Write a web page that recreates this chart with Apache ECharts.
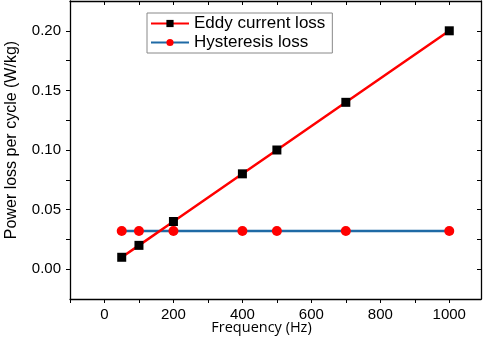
<!DOCTYPE html>
<html><head><meta charset="utf-8">
<script src="https://cdn.jsdelivr.net/npm/echarts@6/dist/echarts.min.js"></script>
<style>html,body{margin:0;padding:0;background:#fff}#c{width:484px;height:339px}</style>
</head><body><div id="c"></div>
<script>
const frequencies = [50, 100, 200, 400, 500, 700, 1000];
const eddyLoss = [0.01, 0.02, 0.04, 0.08, 0.10, 0.14, 0.20];
const hysteresisLoss = [0.032, 0.032, 0.032, 0.032, 0.032, 0.032, 0.032];
const seriesNames = ['Eddy current loss', 'Hysteresis loss'];
const xTitle = 'Frequency (Hz)';
const yTitle = 'Power loss per cycle (W/kg)';

const chart = echarts.init(document.getElementById('c'), null, {renderer: 'canvas'});
const font = 'Arial, "Liberation Sans", sans-serif';
const axisLine = {show: true, onZero: false, lineStyle: {color: '#000', width: 1.3}};
chart.setOption({
  animation: false,
  backgroundColor: '#fff',
  grid: {left: 70, right: 3, top: 1, bottom: 40, containLabel: false, outerBoundsMode: 'none'},
  legend: {
    left: 147, top: 13, orient: 'vertical',
    itemWidth: 38, itemHeight: 9, itemGap: 2,
    padding: [2, 7, 2, 3],
    borderColor: '#888', borderWidth: 1,
    textStyle: {fontFamily: font, fontSize: 17, lineHeight: 17, color: '#000'},
    data: seriesNames
  },
  xAxis: [{
    type: 'value', position: 'bottom', min: -100, max: 1092, interval: 100,
    axisLine, axisTick: {show: true, inside: false, length: 4, lineStyle: {color: '#000'}},
    splitLine: {show: false},
    axisLabel: {fontFamily: font, fontSize: 15, color: '#000', margin: 8,
      showMaxLabel: false,
      formatter: v => (v % 200 === 0 ? String(v) : '')},
    name: xTitle, nameLocation: 'middle', nameGap: 21, nameMoveOverlap: false,
    nameTextStyle: {fontFamily: '"Open Sans", sans-serif', fontSize: 14.5, color: '#000',
      padding: [0, 28, 0, 0]}
  }, {
    type: 'value', position: 'top', min: -100, max: 1092, interval: 100,
    axisLine, axisTick: {show: true, inside: true, length: 4, lineStyle: {color: '#000'}},
    axisLabel: {show: false}, splitLine: {show: false}
  }],
  yAxis: [{
    type: 'value', position: 'left', min: -0.025, max: 0.225, interval: 0.025,
    axisLine, axisTick: {show: true, inside: false, length: 4, lineStyle: {color: '#000'}},
    splitLine: {show: false},
    axisLabel: {fontFamily: font, fontSize: 15, color: '#000', margin: 9,
      showMinLabel: false, showMaxLabel: false,
      formatter: v => {
        const k = Math.round(v * 1000);
        return (k % 50 === 0) ? (k / 1000).toFixed(2) : '';
      }},
    name: yTitle, nameLocation: 'middle', nameGap: 50, nameMoveOverlap: false,
    nameTextStyle: {fontFamily: font, fontSize: 16, color: '#000', padding: [0, 0, 0, 20]}
  }, {
    type: 'value', position: 'right', min: -0.025, max: 0.225, interval: 0.025,
    axisLine, axisTick: {show: true, inside: true, length: 4, lineStyle: {color: '#000'}},
    axisLabel: {show: false}, splitLine: {show: false}
  }],
  series: [{
    name: seriesNames[0], type: 'line', xAxisIndex: 0, yAxisIndex: 0,
    data: frequencies.map((f, i) => [f, eddyLoss[i]]),
    symbol: 'rect', symbolSize: 9,
    lineStyle: {color: '#ff0000', width: 2.5},
    itemStyle: {color: '#000000'},
    z: 3
  }, {
    name: seriesNames[1], type: 'line', xAxisIndex: 0, yAxisIndex: 0,
    data: frequencies.map((f, i) => [f, hysteresisLoss[i]]),
    symbol: 'circle', symbolSize: 10,
    lineStyle: {color: '#1f6aa5', width: 2.5},
    itemStyle: {color: '#ff0000'},
    z: 2
  }]
});
</script></body></html>
